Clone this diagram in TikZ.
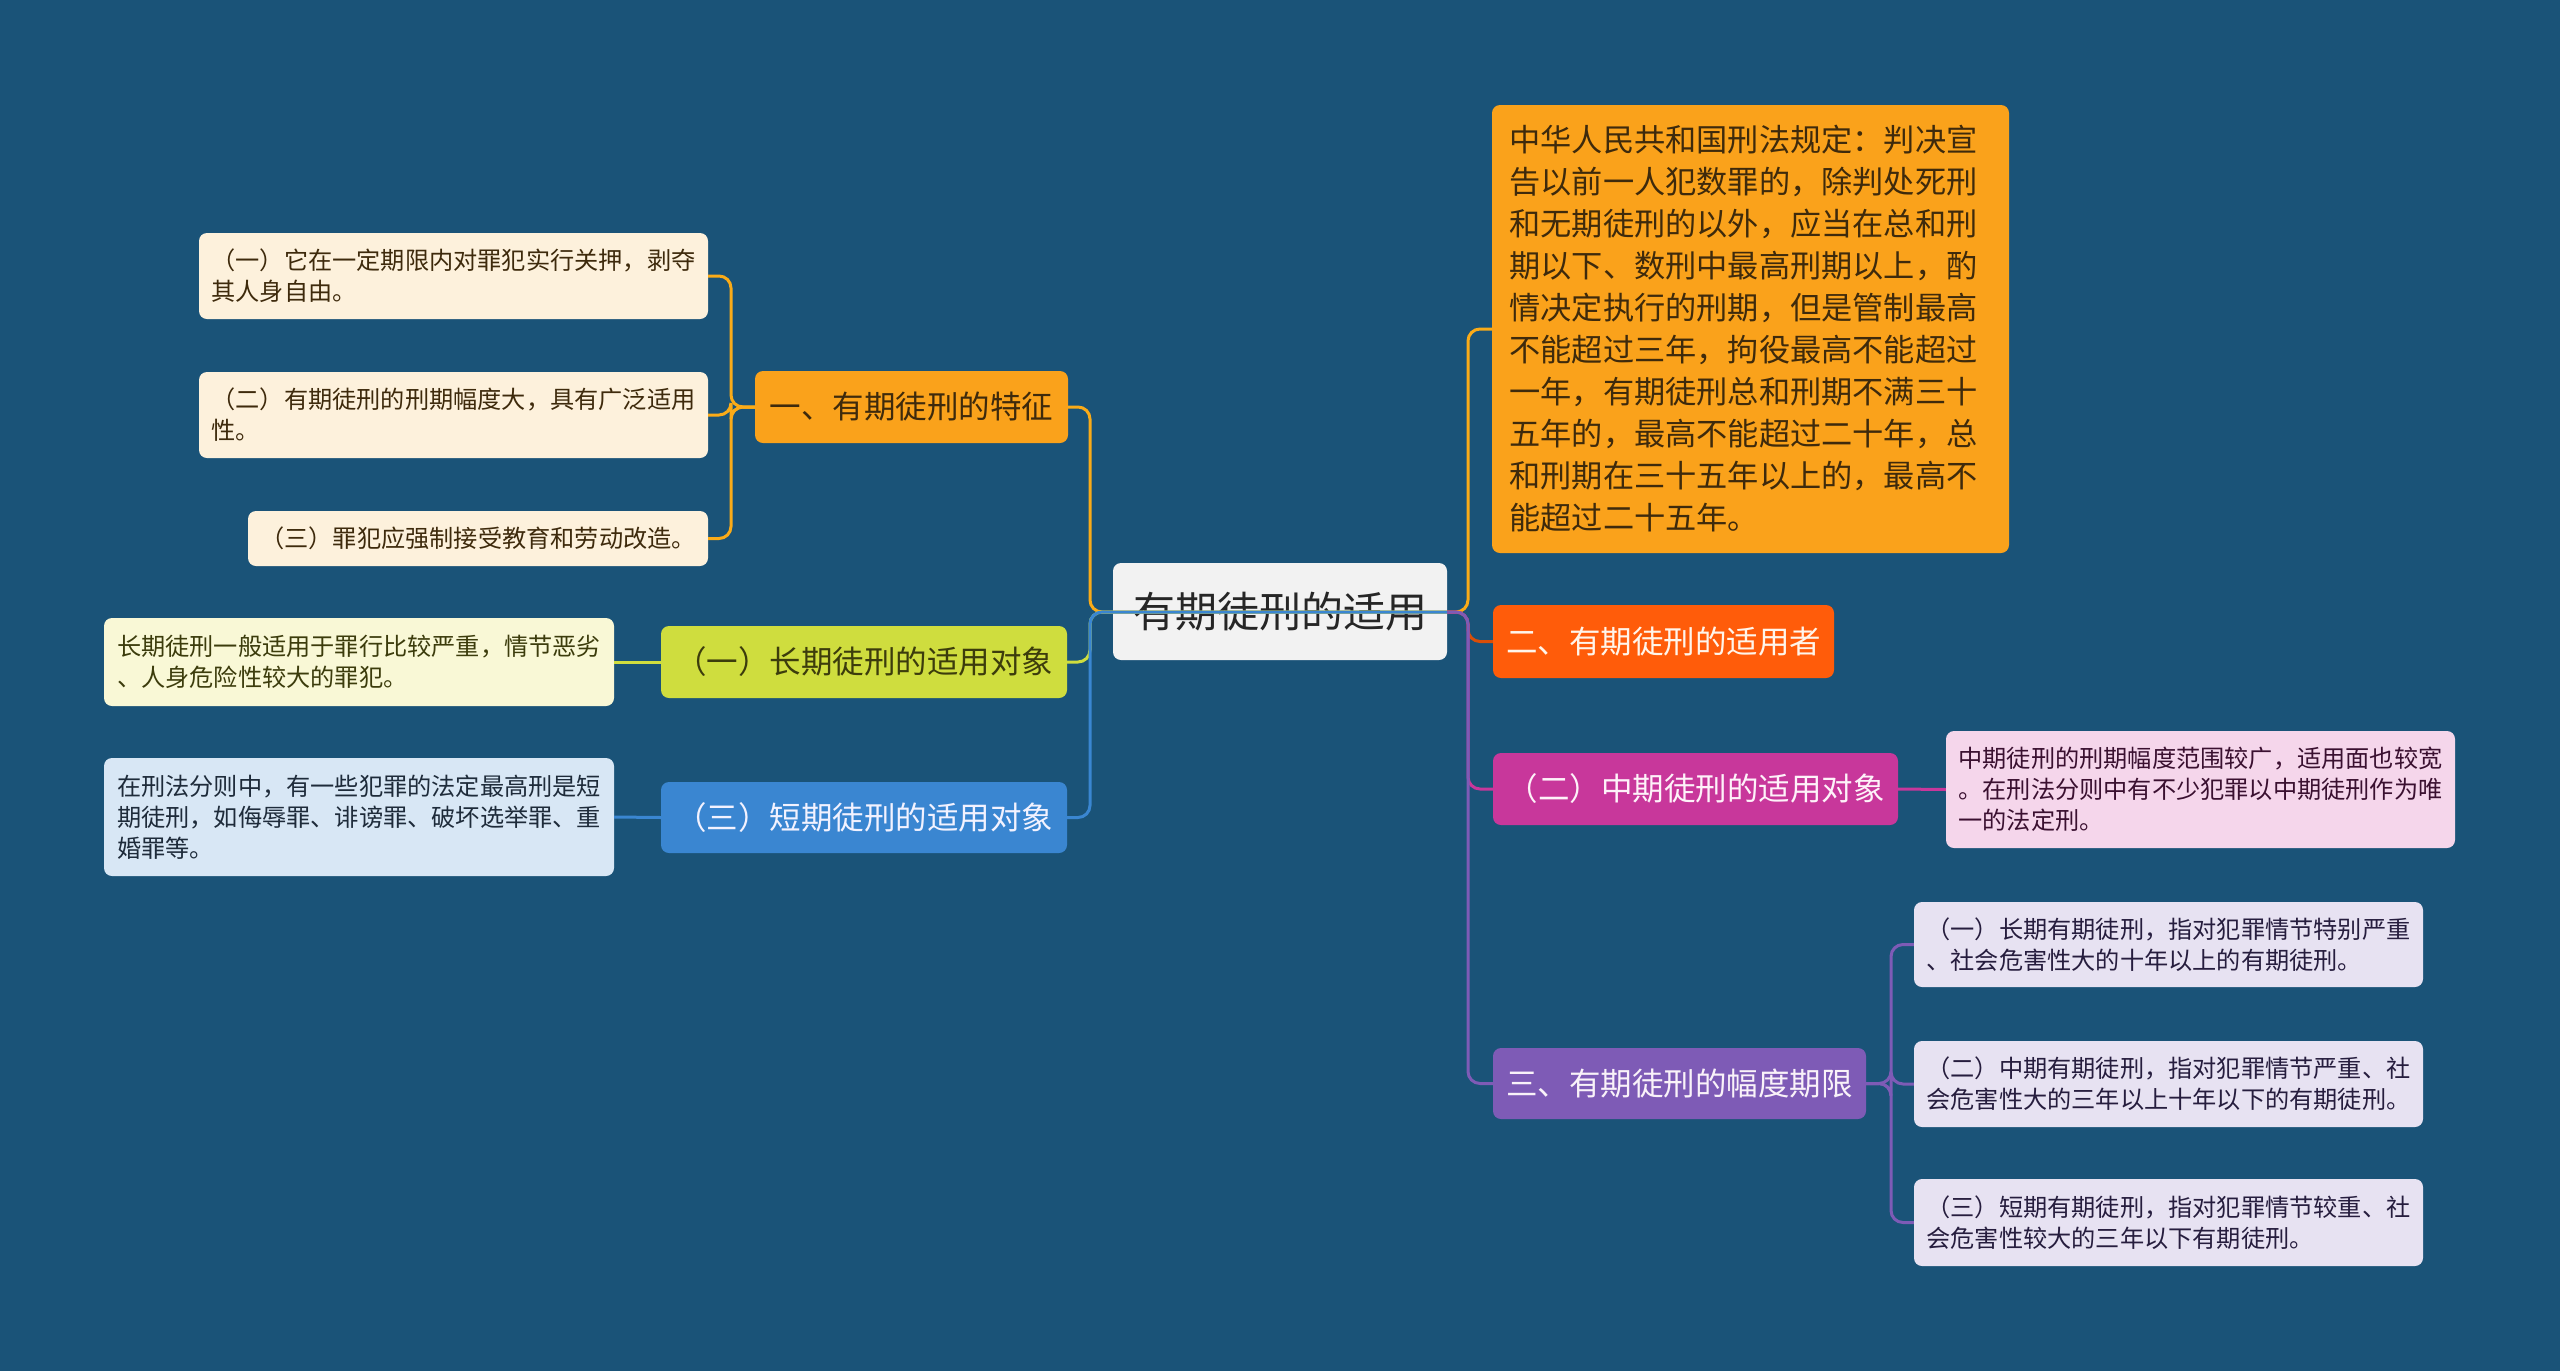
\documentclass[tikz,border=0pt]{standalone}
\usepackage{fontspec}
\setmainfont{Noto Sans CJK SC}
\definecolor{bg}{HTML}{1A5378}
\definecolor{cenfill}{HTML}{F2F2F2}
\definecolor{cOrange}{HTML}{FAA21B}
\definecolor{cYel}{HTML}{CFDD3E}
\definecolor{cBlue}{HTML}{3A86D1}
\definecolor{cRed}{HTML}{FF5C0A}
\definecolor{cMag}{HTML}{C8379B}
\definecolor{cPur}{HTML}{7E5BB6}
\definecolor{lCream}{HTML}{FDF1DC}
\definecolor{lYel}{HTML}{F9F8D6}
\definecolor{lBlue}{HTML}{D8E7F5}
\definecolor{lPink}{HTML}{F5D6EB}
\definecolor{lLav}{HTML}{E7E2F2}
\definecolor{tBrown}{HTML}{3E2A0C}
\definecolor{tOlive}{HTML}{3C3C0C}
\definecolor{tNavy}{HTML}{1E2B3A}
\definecolor{tPlum}{HTML}{3A1030}
\definecolor{tViol}{HTML}{261D3E}
\begin{document}
\begin{tikzpicture}[x=1pt,y=-1pt,
  bx/.style n args={2}{rounded corners=8pt, inner sep=0pt, minimum width=#1, minimum height=#2},
  mainf/.style={font=\fontsize{31.5}{42}\selectfont},
  bigf/.style={font=\fontsize{31.2}{42}\selectfont, align=left},
  smallf/.style={font=\fontsize{24.2}{31}\selectfont, align=left},
  conn/.style={line width=3pt, rounded corners=12pt}
]
\fill[bg] (0,0) rectangle (2560,1371);
\useasboundingbox (0,0) rectangle (2560,1371);

% centre
\node[bx={334}{97}, fill=cenfill, text=black!85, font=\fontsize{42}{48}\selectfont] (cen) at (1280,611.5) {有期徒刑的适用};

% left branches
\node[bx={313}{72}, fill=cOrange, text=tBrown, mainf] (b1) at (911.5,407) {一、有期徒刑的特征};
\node[bx={406}{72}, fill=cYel, text=tOlive, mainf] (b2) at (864,662) {（一）长期徒刑的适用对象};
\node[bx={406}{71}, fill=cBlue, text=white!95!blue, mainf] (b3) at (864,817.5) {（三）短期徒刑的适用对象};

\node[bx={509}{86}, fill=lCream, text=tBrown, smallf] (c1) at (453.5,276) {（一）它在一定期限内对罪犯实行关押，剥夺\\其人身自由。};
\node[bx={509}{86}, fill=lCream, text=tBrown, smallf] (c2) at (453.5,415) {（二）有期徒刑的刑期幅度大，具有广泛适用\\性。};
\node[bx={460}{55}, fill=lCream, text=tBrown, smallf] (c3) at (478,538.5) {（三）罪犯应强制接受教育和劳动改造。};

\node[bx={510}{88}, fill=lYel, text=tOlive, smallf] (k2) at (359,662) {长期徒刑一般适用于罪行比较严重，情节恶劣\\、人身危险性较大的罪犯。};
\node[bx={510}{118}, fill=lBlue, text=tNavy, smallf] (k3) at (359,817) {在刑法分则中，有一些犯罪的法定最高刑是短\\期徒刑，如侮辱罪、诽谤罪、破坏选举罪、重\\婚罪等。};

% right branches
\node[bx={517}{448}, fill=cOrange, text=tBrown, bigf] (r1) at (1750.5,329) {中华人民共和国刑法规定：判决宣\hspace*{14pt}\\告以前一人犯数罪的，除判处死刑\\和无期徒刑的以外，应当在总和刑\\期以下、数刑中最高刑期以上，酌\\情决定执行的刑期，但是管制最高\\不能超过三年，拘役最高不能超过\\一年，有期徒刑总和刑期不满三十\\五年的，最高不能超过二十年，总\\和刑期在三十五年以上的，最高不\\能超过二十五年。};
\node[bx={341}{73}, fill=cRed, text=white!92!orange, mainf] (r2) at (1663.5,641.5) {二、有期徒刑的适用者};
\node[bx={405}{72}, fill=cMag, text=white!95!magenta, mainf] (r3) at (1695.5,789) {（二）中期徒刑的适用对象};
\node[bx={373}{71}, fill=cPur, text=white!95!violet, mainf] (r4) at (1679.5,1083.5) {三、有期徒刑的幅度期限};

\node[bx={509}{117}, fill=lPink, text=tPlum, smallf] (p3) at (2200.5,789.5) {中期徒刑的刑期幅度范围较广，适用面也较宽\\。在刑法分则中有不少犯罪以中期徒刑作为唯\\一的法定刑。};

\node[bx={509}{85}, fill=lLav, text=tViol, smallf] (d1) at (2168.5,944.5) {（一）长期有期徒刑，指对犯罪情节特别严重\\、社会危害性大的十年以上的有期徒刑。};
\node[bx={509}{86}, fill=lLav, text=tViol, smallf] (d2) at (2168.5,1084) {（二）中期有期徒刑，指对犯罪情节严重、社\\会危害性大的三年以上十年以下的有期徒刑。};
\node[bx={509}{87}, fill=lLav, text=tViol, smallf] (d3) at (2168.5,1222.5) {（三）短期有期徒刑，指对犯罪情节较重、社\\会危害性较大的三年以下有期徒刑。};

% trunk coordinates
\coordinate (lt) at (1090,612);
\coordinate (rt) at (1468,612);
\coordinate (t1) at (731,407);
\coordinate (t4) at (1891,1083.5);

% centre to left branches
\draw[conn, color=cOrange!90!yellow] (cen.east |- lt) -- (lt) |- (b1.east);
\draw[conn, color=cYel] (cen.east |- lt) -- (lt) |- (b2.east);
\draw[conn, color=cBlue] (cen.east |- lt) -- (lt) |- (b3.east);

% centre to right branches
\draw[conn, color=cOrange!90!yellow] (cen.east |- rt) -- (rt) |- (r1.west);
\draw[conn, color=cRed!85!black] (cen.east |- rt) -- (rt) |- (r2.west);
\draw[conn, color=cMag] (cen.east |- rt) -- (rt) |- (r3.west);
\draw[conn, color=cPur] (cen.east |- rt) -- (rt) |- (r4.west);

% branch 1 children
\draw[conn, color=cOrange!90!yellow] (b1.west) -- (t1) |- (c1.east);
\draw[conn, color=cOrange!90!yellow] (b1.west) -- (t1) |- (c2.east);
\draw[conn, color=cOrange!90!yellow] (b1.west) -- (t1) |- (c3.east);

% single children
\draw[conn, color=cYel] (b2.west) -- (k2.east);
\draw[conn, color=cBlue] (b3.west) -- (k3.east);
\draw[conn, color=cMag] (r3.east) -- (p3.west);

% branch 4 children
\draw[conn, color=cPur] (r4.east) -- (t4) |- (d1.west);
\draw[conn, color=cPur] (r4.east) -- (t4) |- (d2.west);
\draw[conn, color=cPur] (r4.east) -- (t4) |- (d3.west);
\end{tikzpicture}
\end{document}
